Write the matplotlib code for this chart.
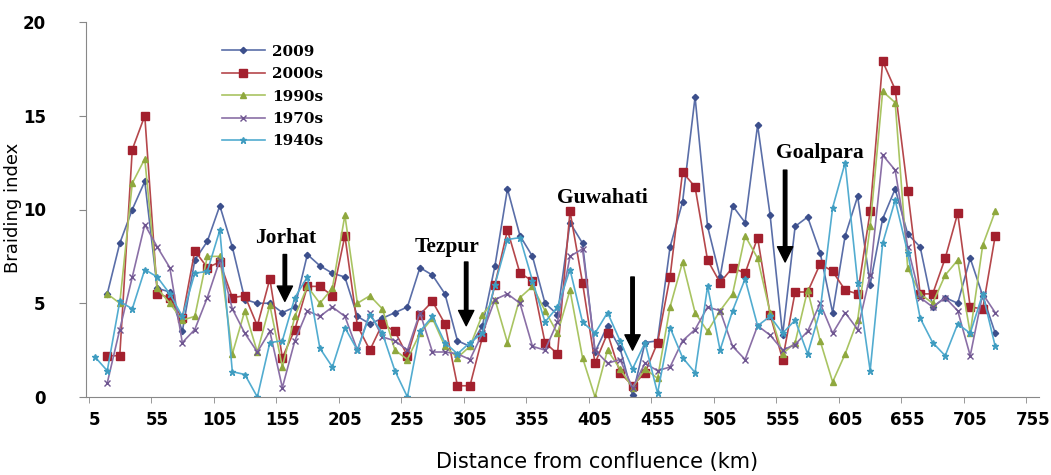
import numpy as np
import matplotlib
matplotlib.use("Agg")
import matplotlib.pyplot as plt

# distance from confluence (km), one value every 10 km
km = np.arange(5, 735, 10)
nan = np.nan

b2009 = [nan, 5.5, 8.2, 10.0, 11.5, 5.8, 5.6, 3.5, 7.3, 8.3,
         10.2, 8.0, 5.2, 5.0, 5.0, 4.5, 4.8, 7.6, 7.0, 6.6,
         6.4, 4.3, 3.9, 4.2, 4.5, 4.8, 6.9, 6.5, 5.5, 3.0,
         2.7, 3.8, 7.0, 11.1, 8.6, 7.5, 5.0, 4.4, 9.3, 8.2,
         2.4, 3.8, 2.6, 0.1, 2.9, 3.0, 8.0, 10.4, 16.0, 9.1,
         6.4, 10.2, 9.3, 14.5, 9.7, 3.3, 9.1, 9.6, 7.7, 4.5,
         8.6, 10.7, 6.0, 9.5, 11.1, 8.7, 8.0, 4.8, 5.3, 5.0,
         7.4, 5.4, 3.4]
b2000s = [nan, 2.2, 2.2, 13.2, 15.0, 5.5, 5.3, 4.2, 7.8, 6.9,
          7.2, 5.3, 5.4, 3.8, 6.3, 2.1, 3.6, 5.9, 5.9, 5.4,
          8.6, 3.8, 2.5, 3.9, 3.5, 2.2, 4.4, 5.1, 3.9, 0.6,
          0.6, 3.2, 6.0, 8.9, 6.6, 6.2, 2.9, 2.3, 9.9, 6.1,
          1.8, 3.4, 1.3, 0.6, 1.3, 2.9, 6.4, 12.0, 11.2, 7.3,
          6.1, 6.9, 6.6, 8.5, 4.4, 2.0, 5.6, 5.6, 7.1, 6.7,
          5.7, 5.5, 9.9, 17.9, 16.4, 11.0, 5.5, 5.5, 7.4, 9.8,
          4.8, 4.7, 8.6]
b1990s = [nan, 5.5, 5.0, 11.4, 12.7, 5.8, 5.0, 4.1, 4.3, 7.5,
          7.5, 2.3, 4.6, 2.4, 4.9, 1.6, 4.3, 5.9, 5.0, 5.8,
          9.7, 5.0, 5.4, 4.7, 2.5, 2.0, 3.4, 4.2, 2.7, 2.1,
          2.7, 4.4, 5.2, 2.9, 5.3, 5.9, 4.6, 3.4, 5.7, 2.1,
          0.0, 2.5, 1.5, 0.5, 1.5, 1.0, 4.8, 7.2, 4.5, 3.5,
          4.6, 5.5, 8.6, 7.4, 4.5, 2.3, 2.9, 5.7, 3.0, 0.8,
          2.3, 4.1, 9.1, 16.3, 15.7, 6.9, 5.5, 5.0, 6.5, 7.3,
          3.4, 8.1, 9.9]
b1970s = [nan, 0.75, 3.6, 6.4, 9.2, 8.0, 6.9, 2.9, 3.6, 5.3,
          7.3, 4.7, 3.4, 2.4, 3.5, 0.5, 3.0, 4.6, 4.3, 4.8,
          4.3, 2.5, 4.5, 3.2, 3.0, 2.5, 4.5, 2.4, 2.4, 2.3,
          2.0, 3.4, 5.2, 5.5, 5.0, 2.7, 2.5, 4.0, 7.5, 7.9,
          2.5, 1.8, 2.0, 0.5, 1.8, 1.4, 1.6, 3.0, 3.6, 4.8,
          4.6, 2.7, 2.0, 3.8, 3.3, 2.5, 2.8, 3.5, 5.0, 3.4,
          4.5, 3.6, 6.5, 12.9, 12.1, 8.0, 5.3, 4.8, 5.3, 4.6,
          2.2, 5.5, 4.5]
b1940s = [2.15, 1.4, 5.1, 4.7, 6.8, 6.4, 5.5, 4.3, 6.6, 6.7,
          8.9, 1.35, 1.2, 0.0, 2.9, 3.0, 5.3, 6.4, 2.6, 1.6,
          3.7, 2.5, 4.4, 3.4, 1.4, 0.0, 3.5, 4.3, 2.9, 2.3,
          2.9, 3.4, 6.0, 8.4, 8.5, 6.2, 4.0, 4.8, 6.8, 4.0,
          3.4, 4.5, 3.0, 1.5, 2.9, 0.2, 3.7, 2.1, 1.3, 5.9,
          2.5, 4.6, 6.3, 3.8, 4.3, 3.4, 4.1, 2.3, 4.6, 10.1,
          12.5, 6.1, 1.4, 8.2, 10.5, 7.7, 4.2, 2.9, 2.2, 3.9,
          3.4, 5.5, 2.7]

labels = ["2009", "2000s", "1990s", "1970s", "1940s"]
series = [b2009, b2000s, b1990s, b1970s, b1940s]
line_colors = ["#5a6ea8", "#b5474b", "#a9c462", "#8a6fa6", "#52acd0"]
mark_colors = ["#3c4f8c", "#a3202e", "#8fa83e", "#6e5590", "#3f9cc0"]
markers = ["D", "s", "^", "x", "*"]
msizes = [3.2, 5.5, 3.8, 4, 4.5]

towns = ["Jorhat", "Tezpur", "Guwahati", "Goalpara"]
town_text_xy = [(158, 8.5), (287, 8.0), (411, 10.6), (585, 13.0)]
arrow_x = [157, 302, 435, 557]
arrow_y = [(7.6, 5.1), (7.2, 3.8), (6.4, 2.5), (12.1, 7.2)]

narrow = ["Liberation Sans Narrow", "DejaVu Sans"]

fig = plt.figure(figsize=(10.51, 4.75), dpi=100)
ax = fig.add_axes([86 / 1051, 78 / 475, 953 / 1051, 375 / 475])

for s, lab, lc, mc, m, ms in zip(series, labels, line_colors, mark_colors, markers, msizes):
    ax.plot(km, s, color=lc, lw=1.2, marker=m, markersize=ms,
            markerfacecolor=mc, markeredgecolor=mc, markeredgewidth=1.0,
            label=lab)

ax.set_xlim(-2, 760)
ax.set_ylim(0, 20)
ax.set_xticks(np.arange(5, 760, 50))
ax.set_xticklabels([str(v) for v in range(5, 760, 50)], fontweight="bold",
                   fontsize=12, family=narrow)
ax.set_xticks(np.arange(0, 760, 50), minor=True)
ax.tick_params(axis="x", which="major", length=0, pad=10)
ax.tick_params(axis="x", which="minor", length=4, color="#888888", direction="out")
ax.set_yticks([0, 5, 10, 15, 20])
ax.set_yticklabels(["0", "5", "10", "15", "20"], fontweight="bold",
                   fontsize=12, family=narrow)
ax.tick_params(axis="y", length=5, color="#888888", pad=24)

for sp in ["top", "right"]:
    ax.spines[sp].set_visible(False)
for sp in ["left", "bottom"]:
    ax.spines[sp].set_color("#888888")

fig.text(13 / 1051, 1 - 208 / 475, "Braiding index", rotation=90,
         ha="center", va="center", fontsize=13)
fig.text(597 / 1051, 13 / 475, "Distance from confluence (km)", ha="center",
         va="center", fontsize=15, family=narrow)

for name, (tx, ty), axx, (y0, y1) in zip(towns, town_text_xy, arrow_x, arrow_y):
    ax.text(tx, ty, name, ha="center", va="center", fontsize=15.5,
            fontweight="bold", family="Liberation Serif")
    ax.annotate("", xy=(axx, y1), xytext=(axx, y0),
                arrowprops=dict(facecolor="black", edgecolor="black",
                                width=2.5, headwidth=11, headlength=11, shrink=0))

leg = ax.legend(loc="upper left", bbox_to_anchor=(208 / 1051, 444 / 475),
                bbox_transform=fig.transFigure, frameon=False,
                handlelength=2.8, labelspacing=0.55, handletextpad=0.5,
                prop=dict(weight="bold", size=11, family="DejaVu Serif"))

fig.savefig("out.png", dpi=100, facecolor="white")
